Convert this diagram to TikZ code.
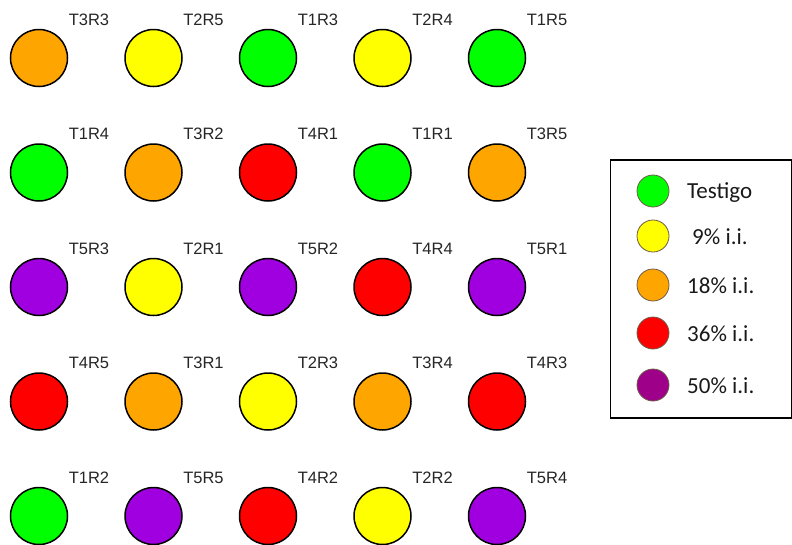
\documentclass[tikz,border=0pt]{standalone}
\usepackage{fontspec}
\setmainfont{Liberation Sans}
\newfontfamily\legfont{Carlito}
\definecolor{cT1}{RGB}{0,255,0}
\definecolor{cT2}{RGB}{255,255,0}
\definecolor{cT3}{RGB}{255,165,0}
\definecolor{cT4}{RGB}{255,0,0}
\definecolor{cT5}{RGB}{160,0,224}
\definecolor{cLeg5}{RGB}{158,0,138}
\definecolor{legrim}{RGB}{110,90,70}
\begin{document}
\begin{tikzpicture}[x=1pt,y=-1pt,
  plotdot/.style={circle,draw=black,line width=1.5pt,minimum size=57pt,inner sep=0pt},
  plotlab/.style={font=\fontsize{16.5}{19}\selectfont,text=black!85,inner sep=0pt},
  legdot/.style={circle,draw=legrim,line width=0.8pt,minimum size=32pt,inner sep=0pt},
  legtext/.style={font=\legfont\fontsize{23}{26}\selectfont,text=black!90,inner sep=0pt,anchor=base west}]
\useasboundingbox (0,0) rectangle (792,544);
\foreach \name/\t/\c/\r in {
  T3R3/3/0/0, T2R5/2/1/0, T1R3/1/2/0, T2R4/2/3/0, T1R5/1/4/0,
  T1R4/1/0/1, T3R2/3/1/1, T4R1/4/2/1, T1R1/1/3/1, T3R5/3/4/1,
  T5R3/5/0/2, T2R1/2/1/2, T5R2/5/2/2, T4R4/4/3/2, T5R1/5/4/2,
  T4R5/4/0/3, T3R1/3/1/3, T2R3/2/2/3, T3R4/3/3/3, T4R3/4/4/3,
  T1R2/1/0/4, T5R5/5/1/4, T4R2/4/2/4, T2R2/2/3/4, T5R4/5/4/4}{
  \node[plotdot,fill=cT\t] (p\name) at ({39+114.5*\c},{58+114.5*\r}) {};
  \node[plotlab] (l\name) at ({89+114.5*\c},{19.5+114.5*\r}) {\name};
}
\node[draw=black,line width=1.8pt,minimum width=181pt,minimum height=258pt,anchor=north west,inner sep=0pt] (legend) at (609.5,159) {};
\node[legdot,fill=cT1] (k1) at (653,191) {};
\node[legtext] (t1) at (687,198) {Testigo};
\node[legdot,fill=cT2] (k2) at (653,236) {};
\node[legtext] (t2) at (692,244) {9\% i.i.};
\node[legdot,fill=cT3] (k3) at (653,285) {};
\node[legtext] (t3) at (687,293) {18\% i.i.};
\node[legdot,fill=cT4] (k4) at (653,333) {};
\node[legtext] (t4) at (687,341) {36\% i.i.};
\node[legdot,fill=cLeg5] (k5) at (653,385) {};
\node[legtext] (t5) at (687,393) {50\% i.i.};
\end{tikzpicture}
\end{document}
